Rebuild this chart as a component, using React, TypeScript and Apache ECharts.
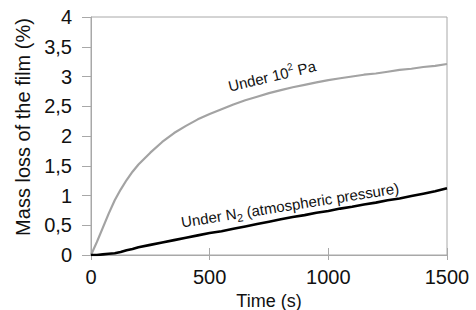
import React, { useEffect, useRef } from "react";
import * as echarts from "echarts";

const times = [0, 25, 50, 75, 100, 125, 150, 175, 200, 250, 300, 350, 400, 450, 500, 550, 600, 650, 700, 750, 800, 850, 900, 950, 1000, 1050, 1100, 1150, 1200, 1250, 1300, 1350, 1400, 1450, 1500];
const vacuumLoss = [0, 0.22, 0.46, 0.7, 0.92, 1.1, 1.26, 1.4, 1.52, 1.72, 1.9, 2.05, 2.17, 2.28, 2.37, 2.45, 2.53, 2.6, 2.66, 2.72, 2.77, 2.82, 2.86, 2.9, 2.94, 2.97, 3.0, 3.03, 3.05, 3.08, 3.11, 3.13, 3.16, 3.18, 3.21];
const nitrogenLoss = [0, 0.0, 0.01, 0.02, 0.03, 0.05, 0.08, 0.1, 0.13, 0.17, 0.21, 0.25, 0.29, 0.33, 0.37, 0.4, 0.44, 0.48, 0.52, 0.56, 0.6, 0.64, 0.67, 0.71, 0.74, 0.78, 0.81, 0.85, 0.88, 0.92, 0.95, 0.99, 1.03, 1.07, 1.12];
const xTicks = [0, 500, 1000, 1500];
const yMax = 4;

export default function App() {
  const ref = useRef<HTMLDivElement>(null);
  useEffect(() => {
    if (!ref.current) return;
    const chart = echarts.init(ref.current, null, { renderer: "svg" });
    const font = "Liberation Sans, Arial, sans-serif";
    const textColor = "#111";
    const axisGray = "#a8a8a8";
    chart.setOption({
      animation: false,
      textStyle: { fontFamily: font },
      grid: {
        left: 91,
        right: 29,
        top: 17,
        bottom: 55,
        show: true,
        borderColor: axisGray,
        borderWidth: 1,
        containLabel: false,
        outerBoundsMode: "none",
      },
      xAxis: [
        {
          type: "value",
          min: xTicks[0],
          max: xTicks[xTicks.length - 1],
          interval: 500,
          name: "Time (s)",
          nameLocation: "middle",
          nameGap: 35,
          nameTextStyle: { fontSize: 18, lineHeight: 18, color: textColor, fontFamily: font },
          axisLine: { show: true, lineStyle: { color: axisGray, width: 1 } },
          axisTick: { show: true, inside: true, length: 7, lineStyle: { color: axisGray } },
          axisLabel: { fontSize: 20, color: textColor, margin: 12, fontFamily: font, formatter: (v: number) => String(v) },
          splitLine: { show: false },
        },
        {
          type: "value",
          position: "bottom",
          offset: 0,
          min: xTicks[0],
          max: xTicks[xTicks.length - 1],
          interval: 500,
          axisLine: { show: false },
          axisTick: { show: true, inside: false, length: 5, lineStyle: { color: axisGray } },
          axisLabel: { show: false },
          splitLine: { show: false },
        },
      ],
      yAxis: {
        type: "value",
        min: 0,
        max: yMax,
        interval: 0.5,
        name: "Mass loss of the film (%)",
        nameLocation: "middle",
        nameGap: 55,
        nameTextStyle: { fontSize: 20, color: textColor, fontFamily: font, padding: [0, 0, 0, 18] },
        axisLine: { show: true, lineStyle: { color: axisGray, width: 1 } },
        axisTick: { show: true, inside: false, length: 9, lineStyle: { color: axisGray } },
        axisLabel: {
          fontSize: 20,
          color: textColor,
          margin: 19,
          fontFamily: font,
          formatter: (v: number) => String(v).replace(".", ","),
        },
        splitLine: { show: false },
      },
      series: [
        {
          type: "line",
          data: times.map((t, i) => [t, vacuumLoss[i]]),
          showSymbol: false,
          lineStyle: { color: "#a3a3a3", width: 2.2 },
          z: 3,
        },
        {
          type: "line",
          data: times.map((t, i) => [t, nitrogenLoss[i]]),
          showSymbol: false,
          lineStyle: { color: "#000", width: 2.6 },
          z: 4,
        },
      ],
      graphic: [
        {
          type: "text",
          x: 272,
          y: 76,
          rotation: (13.5 * Math.PI) / 180,
          style: {
            text: "Under 10{sup|2} Pa",
            fontSize: 15,
            lineHeight: 20,
            fontFamily: font,
            fill: textColor,
            align: "center",
            verticalAlign: "middle",
            rich: {
              sup: { fontSize: 10, verticalAlign: "top", lineHeight: 12, fill: textColor, fontFamily: font },
            },
          },
        },
        {
          type: "text",
          x: 290,
          y: 205,
          rotation: (9 * Math.PI) / 180,
          style: {
            text: "Under N{sub|2} (atmospheric pressure)",
            fontSize: 15,
            lineHeight: 20,
            fontFamily: font,
            fill: textColor,
            align: "center",
            verticalAlign: "middle",
            rich: {
              sub: { fontSize: 11, verticalAlign: "bottom", lineHeight: 12, fill: textColor, fontFamily: font },
            },
          },
        },
      ],
    });
    return () => chart.dispose();
  }, []);
  return <div ref={ref} style={{ width: 476, height: 310, position: "absolute", left: 0, top: 0 }} />;
}
